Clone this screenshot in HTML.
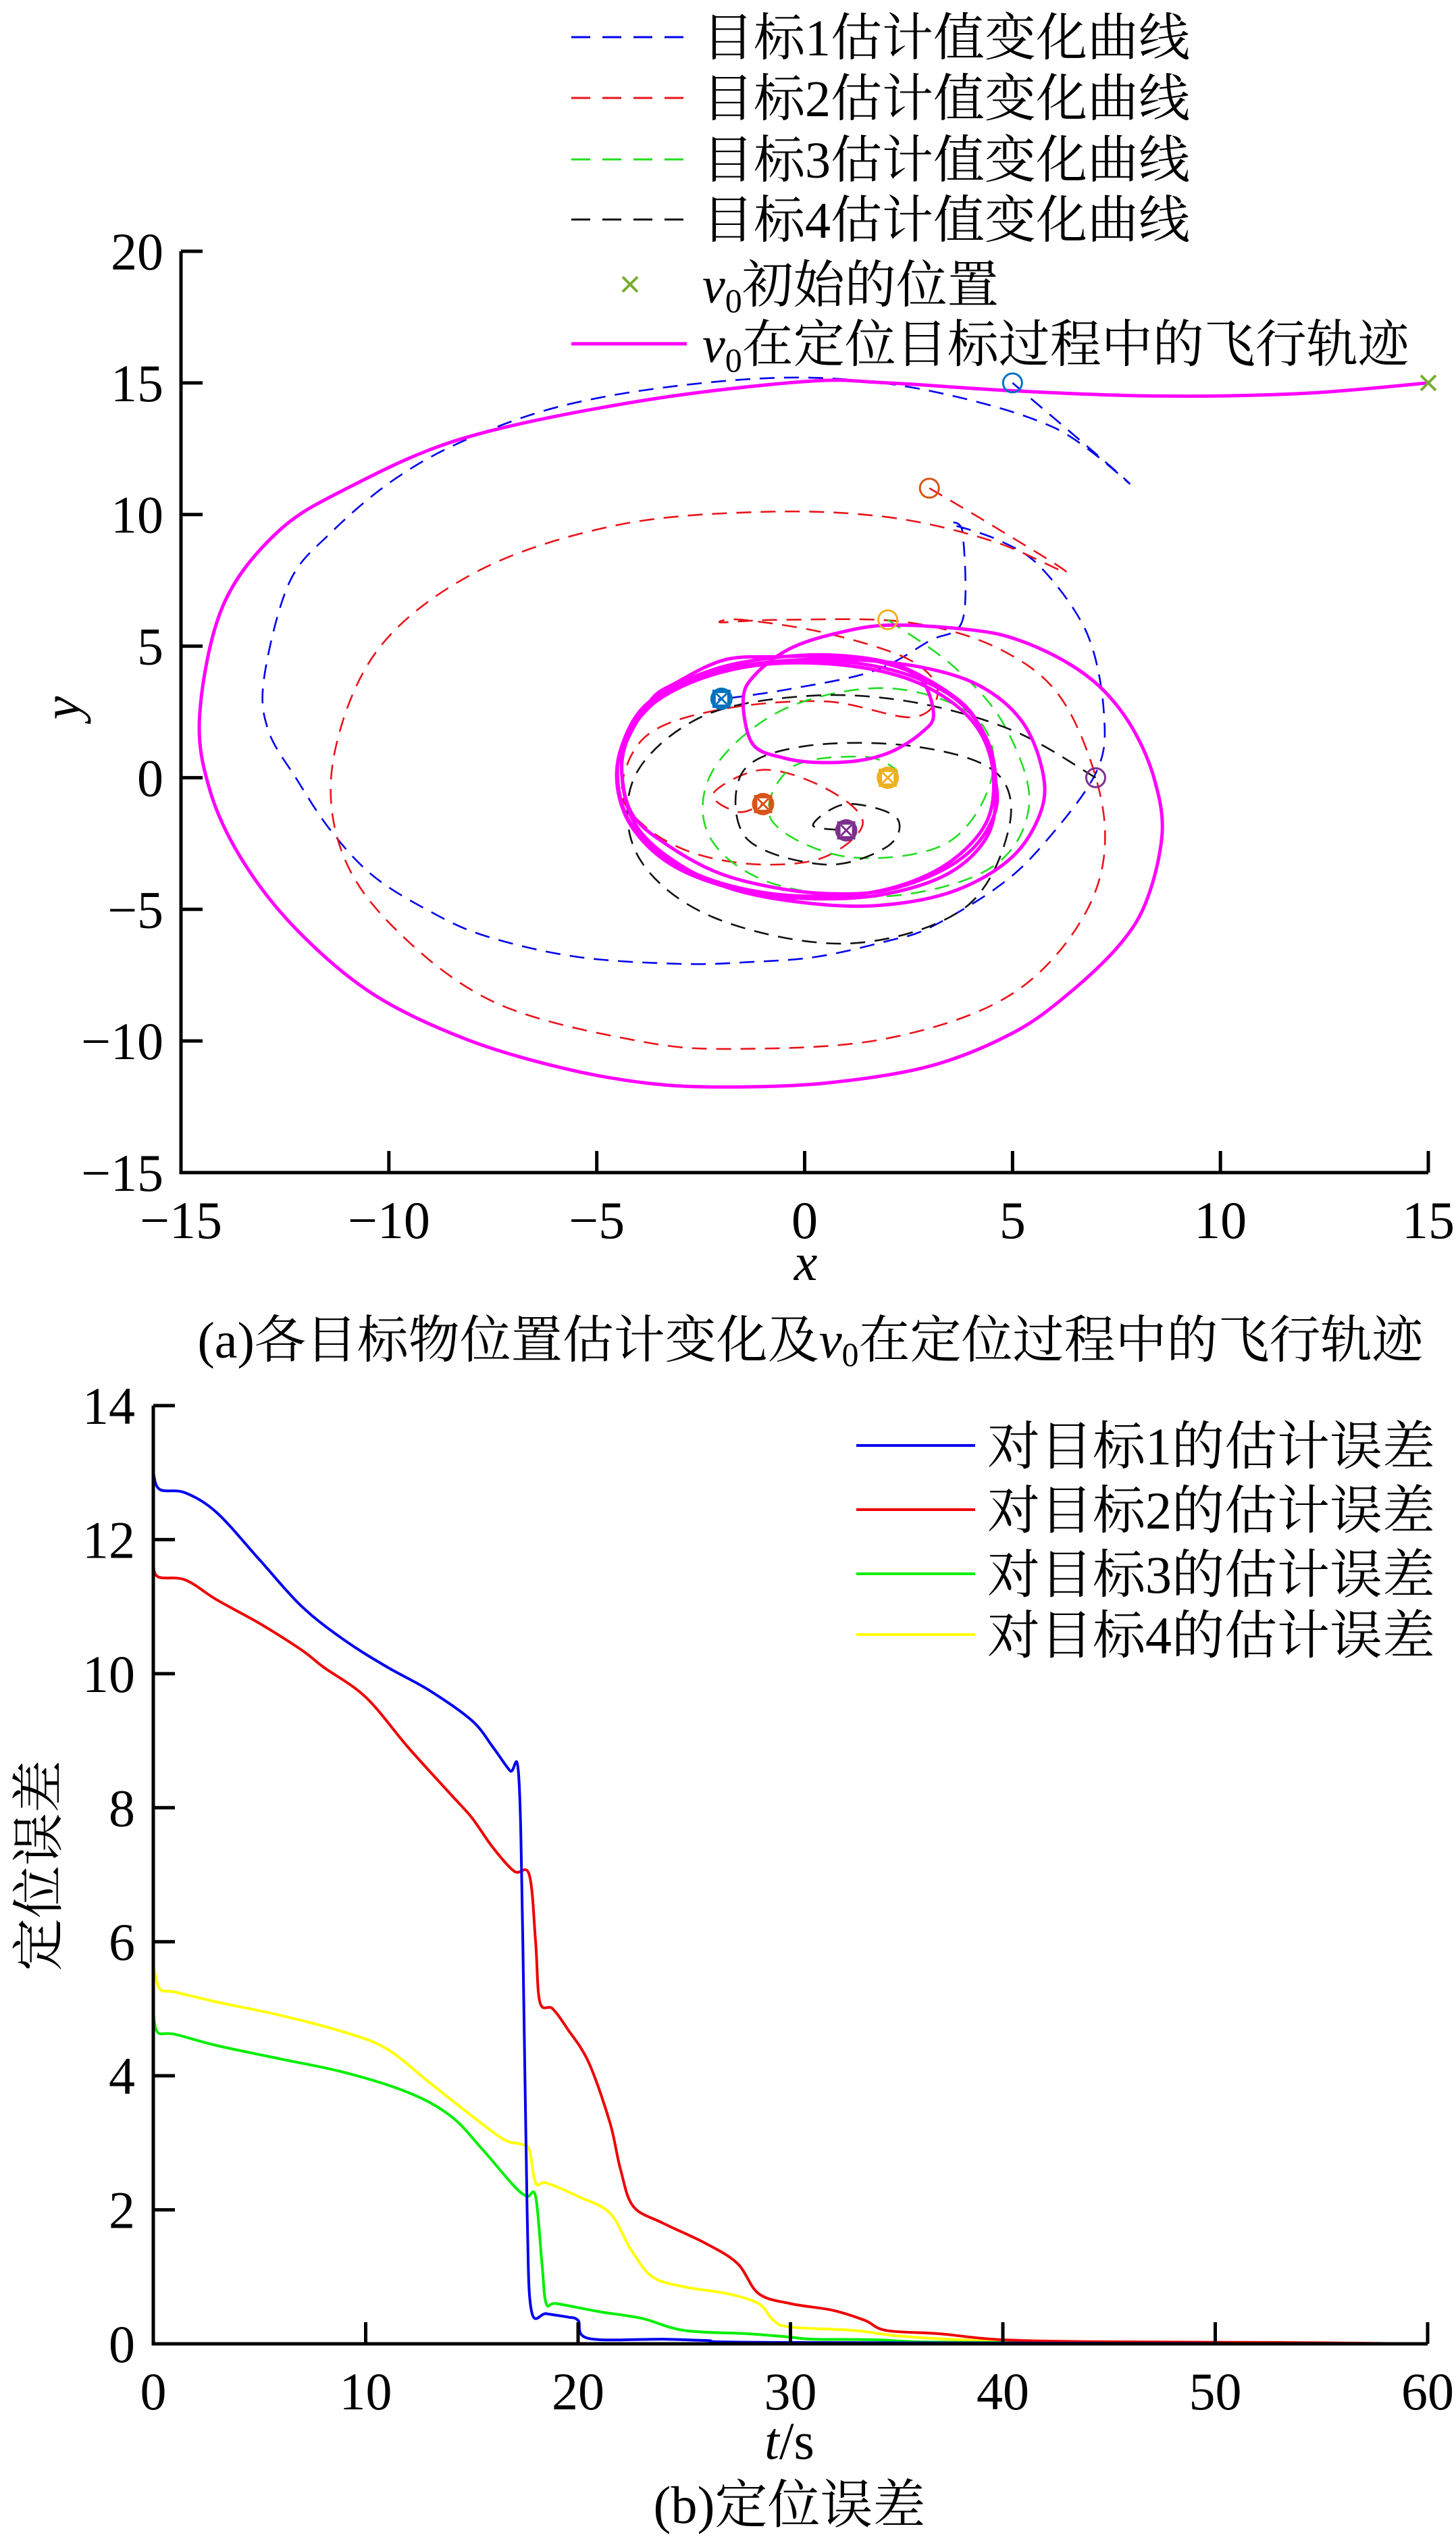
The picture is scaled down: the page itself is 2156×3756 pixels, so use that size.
<!DOCTYPE html>
<html><head><meta charset="utf-8">
<style>
html,body{margin:0;padding:0;background:#fff;}
svg{display:block;}
text{font-family:"Liberation Serif","Noto Serif CJK SC","Noto Sans CJK SC",serif;fill:#000;}
</style></head>
<body>
<svg id="fig" width="2156" height="3756" viewBox="0 0 2156 3756" xmlns="http://www.w3.org/2000/svg">
<g id="topChart"></g>
<g id="botChart"></g>
</svg>
<script>
// ===== Top chart data =====
const xTicksA = [-15,-10,-5,0,5,10,15];
const yTicksA = [-15,-10,-5,0,5,10,15,20];
const flightPath = [[15,15],[12,14.6],[8.5,14.5],[5,14.7],[2,15],[0,15.05],[-4,14.3],[-8.2,12.9],[-11,11],[-12.7,9.3],[-14,6.5],[-14.55,2.4],[-14.3,-0.5],[-13.5,-3.2],[-12.2,-5.8],[-10.4,-8.2],[-8.2,-9.9],[-5.9,-11],[-3.8,-11.6],[-1.9,-11.75],[0.5,-11.6],[3,-10.96],[5,-9.7],[6.35,-8.2],[7.6,-6.3],[8.25,-4.56],[8.6,-2.06],[8.4,0],[7.9,1.84],[7.2,3.3],[6.35,4.34],[5.2,5.2],[4.1,5.6],[2.1,5.8],[0.8,5.5],[-0.36,4.9],[-1.2,3.9],[-1.48,2.95],[-1.25,1.28],[-0.5,0.75],[0.3,0.58],[1.3,0.65],[2.1,1.0],[2.8,1.7],[3.1,2.4],[2.77,3.78],[1.8,4.4],[0.76,4.62],[-0.6,4.6],[-1.92,4.48],[-3.1,3.6],[-3.7,2.95],[-4.3,1.3],[-4.38,-0.1],[-4.1,-1.5],[-3.26,-2.6],[-2.1,-3.6],[-0.8,-4.15],[0.5,-4.4],[1.88,-4.3],[3.2,-3.6],[4.1,-2.6],[4.6,-1.2],[4.56,0.17],[4.3,1.6],[3.9,2.67],[3.1,3.6],[2.1,4.34],[0.8,4.65],[-0.5,4.6],[-2,4.2],[-3.3,3.3],[-4.2,1.8],[-4.4,0.2],[-4.1,-1.7],[-3.2,-3.1],[-1.8,-4.2],[0,-4.75],[1.8,-4.85],[3.6,-4.3],[5,-3],[5.7,-1.2],[5.7,0.4],[5.2,2.2],[4.2,3.5],[2.8,4.2],[1,4.5],[-0.8,4.4],[-2.5,3.9],[-3.8,2.8],[-4.4,1.2],[-4.5,-0.4],[-4.1,-2],[-3.1,-3.4],[-1.5,-4.3],[0.3,-4.6],[2,-4.4],[3.5,-3.6],[4.4,-2.2],[4.6,-0.4],[4.4,1.4],[3.7,2.9],[2.5,3.9],[1,4.4],[-0.6,4.4],[-2.2,4],[-3.5,3],[-4.3,1.5],[-4.5,0],[-4.2,-1.7],[-3.3,-3.1],[-1.8,-4.1],[0,-4.5],[1.8,-4.3],[3.3,-3.4],[4.3,-1.9],[4.55,-0.2],[4.3,1.5],[3.6,2.8],[2.4,3.8],[0.8,4.3],[-1,4.3],[-2.6,3.7],[-3.8,2.6],[-4.4,1]];
const est1 = [[5,15],[7.8,11.2],[6,13.3],[3,14.7],[0.1,15.2],[-3,14.9],[-5.9,14.1],[-8.2,12.8],[-9.9,11.3],[-11.4,9.3],[-12.4,7.4],[-13,3.8],[-12.9,1.8],[-12.2,-0.1],[-11.4,-2],[-10.4,-3.7],[-9.1,-5],[-7.7,-6],[-5.5,-6.8],[-3,-7.07],[-1.3,-7.0],[0.3,-6.8],[2,-6.2],[3,-5.7],[4.6,-4.2],[5.7,-2.6],[7,0.17],[7.2,2.4],[6.8,5.45],[5.7,7.96],[4.7,9.0],[3.55,9.6],[3.8,9.3],[3.8,6.0],[3,5.2],[1.65,4.05],[-0.36,3.37],[-1.92,3.0],[-2,3]];
const est2 = [[3,11],[4.6,9.5],[6.3,7.8],[4.5,9.0],[2,9.9],[-1,10.1],[-4.5,9.6],[-7.8,7.9],[-10.2,5],[-11.3,1],[-11.2,-2.5],[-10,-5.5],[-7.5,-8.5],[-4,-10],[-1.5,-10.3],[2,-9.9],[5,-8.2],[6.8,-5],[7.2,-1.5],[6.3,2.7],[4.8,4.8],[2.5,5.9],[-0.5,6],[-2,5.9],[-1.5,6],[0.5,5.5],[2.5,4.5],[3.2,3.3],[2.6,2.3],[0.5,2.9],[-2,2.6],[-3.8,1.6],[-4.4,-0.5],[-3.8,-1.9],[-2.6,-2.9],[-1,-3.3],[0.5,-3.0],[1.4,-1.7],[0.5,-0.4],[-1,0.3],[-2.2,-0.6],[-1.6,-1.3],[-1,-1]];
const est3 = [[2,6],[3.6,4.2],[4.8,2],[5.4,-1],[4.5,-3.4],[2,-4.5],[-0.8,-4],[-2.3,-2.2],[-2.2,0.3],[-0.5,2.6],[2,3.4],[4.1,2.3],[4.5,0],[3.4,-2.5],[1,-3],[-0.8,-1.6],[-0.3,0.4],[1.4,0.8],[2.2,0.3],[2,0]];
const est4 = [[7,0],[5,1.8],[2.5,2.9],[0,3.1],[-2.5,2.3],[-4.1,0],[-4,-3],[-2.2,-5.3],[1,-6.3],[3.8,-5],[4.9,-2],[4.6,0.2],[2.6,1.2],[0,1.2],[-1.5,0.2],[-1.4,-2.3],[0.5,-3.3],[2,-2.6],[2.2,-1.5],[1,-1.0],[0.2,-1.8],[1,-2]];
const initEst = [[5,15],[3,11],[2,6],[7,0]];
const truePos = [[-2,3],[-1,-1],[2,0],[1,-2]];
const startPos = [15,15];

// ===== Bottom chart data =====
const tTicks = [0,10,20,30,40,50,60];
const eTicks = [0,2,4,6,8,10,12,14];
const err1T = [0,0.3,1.5,3,5,7,9,11,13,15,16,16.8,17.2,17.4,17.6,17.8,18.5,19.5,20,20.5,24,26,30,60];
const err1V = [13.0,12.75,12.7,12.4,11.7,11.0,10.5,10.1,9.75,9.3,8.9,8.55,8.5,6,2,0.5,0.45,0.4,0.35,0.08,0.07,0.05,0.02,0];
const err2T = [0,0.2,1.5,3,5,7,8,10,12,14,15,16,17,17.7,18,18.2,18.8,19.5,20.5,21.5,22,22.6,24,26,27.5,28.5,30,32,33.5,34.5,37,40,45,53,60];
const err2V = [11.7,11.45,11.4,11.1,10.75,10.35,10.1,9.65,8.9,8.2,7.85,7.4,7.05,7.0,6.0,5.1,5.0,4.7,4.2,3.3,2.6,2.05,1.8,1.5,1.2,0.75,0.6,0.5,0.35,0.2,0.15,0.06,0.03,0.02,0];
const err3T = [0,0.2,1,3,6,9,12,14,15.5,17,17.6,18,18.3,18.5,19,21,23,25,28,30,31,34,36,40,47,60];
const err3V = [4.95,4.65,4.62,4.45,4.25,4.05,3.75,3.4,2.9,2.35,2.2,2.2,1.2,0.6,0.6,0.48,0.38,0.2,0.15,0.1,0.07,0.06,0.03,0.02,0.01,0];
const err4T = [0,0.3,1,3,6,9,11,13,15,16.5,17.3,17.7,18,18.5,20,21.5,22.5,23.5,25,27,28.5,29.2,30,33,35,38,42,60];
const err4V = [5.65,5.3,5.25,5.1,4.9,4.65,4.4,3.9,3.4,3.05,2.98,2.9,2.4,2.4,2.2,1.95,1.4,1.0,0.85,0.75,0.6,0.35,0.25,0.2,0.12,0.06,0.03,0];

const NS = "http://www.w3.org/2000/svg";
function mk(parent, tag, attrs){const e=document.createElementNS(NS,tag);for(const k in attrs)e.setAttribute(k,attrs[k]);parent.appendChild(e);return e;}
function txt(parent, s, attrs){const e=mk(parent,'text',attrs);e.textContent=s;return e;}

const A = {x0:268, x1:2115, y0:1736, y1:372, xmin:-15, xmax:15, ymin:-15, ymax:20};
const ax = v => A.x0 + (v-A.xmin)/(A.xmax-A.xmin)*(A.x1-A.x0);
const ay = v => A.y0 - (v-A.ymin)/(A.ymax-A.ymin)*(A.y0-A.y1);
const gTop = document.getElementById('topChart');

function smoothPath(pts){
  let d = 'M'+pts[0][0].toFixed(1)+','+pts[0][1].toFixed(1);
  for(let i=0;i<pts.length-1;i++){
    const p0=pts[Math.max(i-1,0)],p1=pts[i],p2=pts[i+1],p3=pts[Math.min(i+2,pts.length-1)];
    const c1=[p1[0]+(p2[0]-p0[0])/6,p1[1]+(p2[1]-p0[1])/6];
    const c2=[p2[0]-(p3[0]-p1[0])/6,p2[1]-(p3[1]-p1[1])/6];
    d+=' C'+c1[0].toFixed(1)+','+c1[1].toFixed(1)+' '+c2[0].toFixed(1)+','+c2[1].toFixed(1)+' '+p2[0].toFixed(1)+','+p2[1].toFixed(1);
  }
  return d;
}
const toPx = arr => arr.map(p=>[ax(p[0]),ay(p[1])]);

const estSeries = [[est1,'#0000ee','target1-estimate-curve'],[est2,'#e8141a','target2-estimate-curve'],[est3,'#22dd22','target3-estimate-curve'],[est4,'#111111','target4-estimate-curve']];
for(const s of estSeries){
  const p = mk(gTop,'path',{d:smoothPath(toPx(s[0])),fill:'none',stroke:s[1],'stroke-width':2.6,'stroke-dasharray':'22,14'});
  
  
}
const fp = mk(gTop,'path',{d:smoothPath(toPx(flightPath)),fill:'none',stroke:'#ff00ff','stroke-width':5,'stroke-linejoin':'round'});



const mColors = ['#0072bd','#d95319','#edb120','#7e2f8e'];
initEst.forEach((p,i)=>{
  const c = mk(gTop,'circle',{cx:ax(p[0]),cy:ay(p[1]),r:14,fill:'none',stroke:mColors[i],'stroke-width':3});
  
  
});
truePos.forEach((p,i)=>{
  const g = mk(gTop,'g',{});
  
  
  const X=ax(p[0]),Y=ay(p[1]);
  mk(g,'circle',{cx:X,cy:Y,r:15,fill:'none',stroke:mColors[i],'stroke-width':3});
  mk(g,'rect',{x:X-11,y:Y-11,width:22,height:22,fill:'none',stroke:mColors[i],'stroke-width':5});
  mk(g,'path',{d:`M${X-8},${Y-8}L${X+8},${Y+8}M${X+8},${Y-8}L${X-8},${Y+8}`,stroke:mColors[i],'stroke-width':3});
});
{
  const X=ax(startPos[0]),Y=ay(startPos[1]);
  const s = mk(gTop,'path',{d:`M${X-11},${Y-11}L${X+11},${Y+11}M${X+11},${Y-11}L${X-11},${Y+11}`,stroke:'#77ac30','stroke-width':4});
  
  
}
const axA = mk(gTop,'path',{d:`M${A.x0},${A.y1}V${A.y0}H${A.x1}`,fill:'none',stroke:'#000','stroke-width':5});


xTicksA.forEach(v=>{
  const X=ax(v);
  mk(gTop,'line',{x1:X,y1:A.y0,x2:X,y2:A.y0-32,stroke:'#000','stroke-width':5});
  const t = txt(gTop, v<0?'\u2212'+(-v):String(v), {x:X,y:A.y0+97,'font-size':78,'text-anchor':'middle'});
  
  
});
yTicksA.forEach(v=>{
  const Y=ay(v);
  mk(gTop,'line',{x1:A.x0,y1:Y,x2:A.x0+32,y2:Y,stroke:'#000','stroke-width':5});
  const t = txt(gTop, v<0?'\u2212'+(-v):String(v), {x:242,y:Y+27,'font-size':78,'text-anchor':'end'});
  
  
});
{
  const xl = txt(gTop,'x',{x:1193,y:1895,'font-size':78,'font-style':'italic','text-anchor':'middle'});
  
  
  const yl = txt(gTop,'y',{x:0,y:0,'font-size':78,'font-style':'italic','text-anchor':'middle',transform:'translate(118,1048) rotate(-90)'});
  
  
}
const legA = [
  ['dash','#0000ee','目标1估计值变化曲线',55],
  ['dash','#e8141a','目标2估计值变化曲线',145],
  ['dash','#22dd22','目标3估计值变化曲线',236],
  ['dash','#111111','目标4估计值变化曲线',325],
  ['x','#77ac30','初始的位置',421],
  ['solid','#ff00ff','在定位目标过程中的飞行轨迹',509]
];
legA.forEach(l=>{
  const g = mk(gTop,'g',{});
  
  
  const y=l[3];
  if(l[0]==='dash') mk(g,'line',{x1:846,y1:y,x2:1017,y2:y,stroke:l[1],'stroke-width':3,'stroke-dasharray':'28,18'});
  else if(l[0]==='solid') mk(g,'line',{x1:846,y1:y,x2:1017,y2:y,stroke:l[1],'stroke-width':5});
  else mk(g,'path',{d:`M${922},${y-11}L${944},${y+11}M${944},${y-11}L${922},${y+11}`,stroke:l[1],'stroke-width':4});
  if(l[0]==='dash'){
    txt(g,l[2],{x:1040,y:y+27,'font-size':76});
  } else {
    const t = txt(g,'',{x:1040,y:y+27,'font-size':76});
    const v = mk(t,'tspan',{'font-style':'italic'}); v.textContent='v';
    const s = mk(t,'tspan',{'font-size':50,dy:14}); s.textContent='0';
    const r = mk(t,'tspan',{dy:-14}); r.textContent=l[2];
  }
});
{
  const cap = txt(gTop,'',{x:1200,y:2010,'font-size':76,'text-anchor':'middle'});
  
  
  const a1=mk(cap,'tspan',{}); a1.textContent='(a)各目标物位置估计变化及';
  const a2=mk(cap,'tspan',{'font-style':'italic'}); a2.textContent='v';
  const a3=mk(cap,'tspan',{'font-size':50,dy:12}); a3.textContent='0';
  const a4=mk(cap,'tspan',{dy:-12}); a4.textContent='在定位过程中的飞行轨迹';
}

const B = {x0:227, x1:2114, y0:3470, y1:2081, tmax:60, emax:14};
const bx = v => B.x0 + v/B.tmax*(B.x1-B.x0);
const by = v => B.y0 - v/B.emax*(B.y0-B.y1);
const gBot = document.getElementById('botChart');
const errSeries = [[err1T,err1V,'#0000ee','error-line-target1'],[err2T,err2V,'#ee0000','error-line-target2'],[err3T,err3V,'#00ee00','error-line-target3'],[err4T,err4V,'#ffff00','error-line-target4']];
errSeries.slice().reverse().forEach(s=>{
  const pts = s[0].map((t,i)=>[bx(t),by(s[1][i])]);
  const pl = mk(gBot,'path',{d:smoothPath(pts),fill:'none',stroke:s[2],'stroke-width':4,'stroke-linejoin':'round'});
  
  
});
const axB = mk(gBot,'path',{d:`M${B.x0},${B.y1}V${B.y0}H${B.x1}`,fill:'none',stroke:'#000','stroke-width':5});


tTicks.forEach(v=>{
  const X=bx(v);
  mk(gBot,'line',{x1:X,y1:B.y0,x2:X,y2:B.y0-32,stroke:'#000','stroke-width':5});
  const t = txt(gBot,String(v),{x:X,y:B.y0+97,'font-size':78,'text-anchor':'middle'});
  
  
});
eTicks.forEach(v=>{
  const Y=by(v);
  mk(gBot,'line',{x1:B.x0,y1:Y,x2:B.x0+32,y2:Y,stroke:'#000','stroke-width':5});
  const t = txt(gBot,String(v),{x:200,y:Y+27,'font-size':78,'text-anchor':'end'});
  
  
});
{
  const xl = txt(gBot,'',{x:1169,y:3640,'font-size':78,'text-anchor':'middle'});
  
  
  const t1=mk(xl,'tspan',{'font-style':'italic'}); t1.textContent='t';
  const t2=mk(xl,'tspan',{}); t2.textContent='/s';
  const yl = txt(gBot,'定位误差',{x:0,y:0,'font-size':78,'text-anchor':'middle',transform:'translate(84,2762) rotate(-90)'});
  
  
  const cap = txt(gBot,'(b)定位误差',{x:1169,y:3735,'font-size':78,'text-anchor':'middle'});
  
  
}
const legB = [['#0000ee','对目标1的估计误差',2140],['#ee0000','对目标2的估计误差',2235],['#00ee00','对目标3的估计误差',2330],['#ffff00','对目标4的估计误差',2420]];
legB.forEach(l=>{
  const g = mk(gBot,'g',{});
  
  
  mk(g,'line',{x1:1268,y1:l[2],x2:1444,y2:l[2],stroke:l[0],'stroke-width':4});
  txt(g,l[1],{x:1462,y:l[2]+28,'font-size':78});
});
</script>
</body></html>
